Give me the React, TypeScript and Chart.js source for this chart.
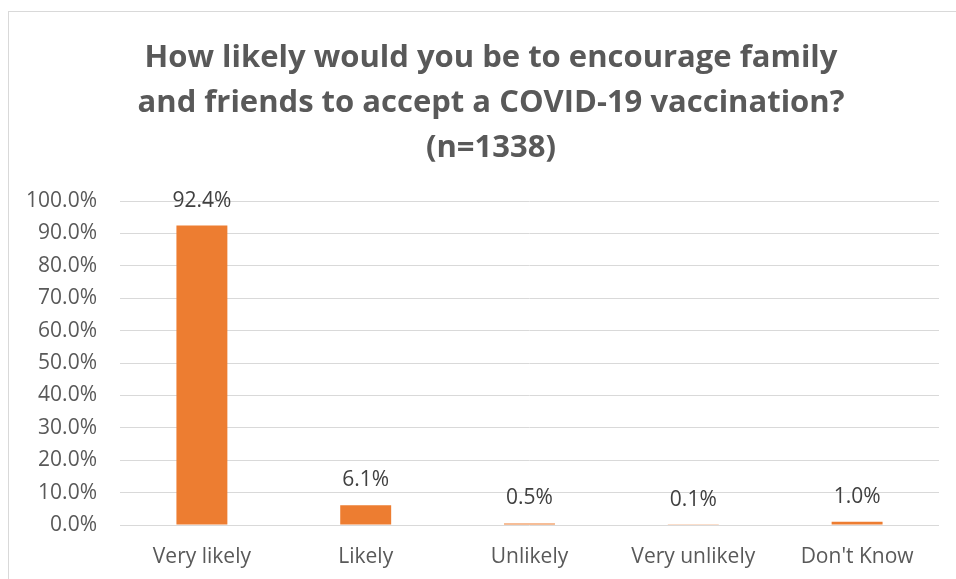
import React, { useEffect, useRef } from "react";
import { Chart, registerables } from "chart.js";

Chart.register(...registerables);

// Survey responses (percent of n=1338)
const categories = ["Very likely", "Likely", "Unlikely", "Very unlikely", "Don't Know"];
const shares = [92.4, 6.1, 0.5, 0.1, 1.0];
const titleLines = [
  "How likely would you be to encourage family",
  "and friends to accept a COVID-19 vaccination?",
  "(n=1338)",
];
const yMax = 100;
const yStep = 10;

const FONT = "'Open Sans', 'Noto Sans', sans-serif";
const BAR = "#ED7D31";
const GRID = "#D9D9D9";
const AXIS_TEXT = "#595959";
const VALUE_TEXT = "#404040";

// Three-line bold heading centred over the full canvas width
const heading = {
  id: "heading",
  afterDraw(chart: any) {
    const ctx = chart.ctx;
    ctx.save();
    ctx.font = `bold 31px ${FONT}`;
    ctx.fillStyle = AXIS_TEXT;
    ctx.textAlign = "center";
    ctx.textBaseline = "alphabetic";
    titleLines.forEach((line, i) => {
      ctx.fillText(line, chart.width / 2, 55 + i * 45);
    });
    ctx.restore();
  },
};

// Percentage printed above each bar
const valueLabels = {
  id: "valueLabels",
  afterDatasetsDraw(chart: any) {
    const ctx = chart.ctx;
    const meta = chart.getDatasetMeta(0);
    ctx.save();
    ctx.font = `21px ${FONT}`;
    ctx.fillStyle = VALUE_TEXT;
    ctx.textAlign = "center";
    ctx.textBaseline = "alphabetic";
    meta.data.forEach((bar: any, i: number) => {
      const v = chart.data.datasets[0].data[i] as number;
      ctx.fillText(`${v.toFixed(1)}%`, bar.x, bar.y - 19);
    });
    ctx.restore();
  },
};

export default function App() {
  const ref = useRef<HTMLCanvasElement | null>(null);

  useEffect(() => {
    if (!ref.current) return;
    const chart = new Chart(ref.current, {
      type: "bar",
      data: {
        labels: categories,
        datasets: [
          {
            data: shares,
            backgroundColor: BAR,
            borderWidth: 0,
            categoryPercentage: 1,
            barPercentage: 0.311,
          },
        ],
      },
      plugins: [heading, valueLabels],
      options: {
        animation: false,
        responsive: true,
        maintainAspectRatio: false,
        layout: { padding: { left: 0, right: 34, top: 189, bottom: 0 } },
        plugins: {
          legend: { display: false },
          tooltip: { enabled: false },
          title: { display: false },
        },
        scales: {
          x: {
            grid: { display: false, drawTicks: false },
            border: { display: false },
            ticks: {
              color: AXIS_TEXT,
              font: { family: FONT, size: 21 },
              padding: 19,
              maxRotation: 0,
            },
            afterFit(scale: any) {
              scale.height = 85;
            },
          },
          y: {
            min: 0,
            max: yMax,
            grid: { color: GRID, lineWidth: 1, drawTicks: false },
            border: { display: false },
            ticks: {
              stepSize: yStep,
              color: AXIS_TEXT,
              font: { family: FONT, size: 21 },
              padding: 23,
              callback: (v: any) => `${Number(v).toFixed(1)}%`,
            },
            afterFit(scale: any) {
              scale.width = 111;
            },
          },
        },
      },
    });
    return () => chart.destroy();
  }, []);

  return (
    <div style={{ position: "fixed", inset: 0, overflow: "hidden", background: "#fff" }}>
      <div
        style={{
          position: "absolute",
          left: 8,
          top: 11,
          width: 964,
          height: 598,
          border: "1px solid #D9D9D9",
          background: "#fff",
        }}
      >
        <canvas ref={ref} />
      </div>
    </div>
  );
}
